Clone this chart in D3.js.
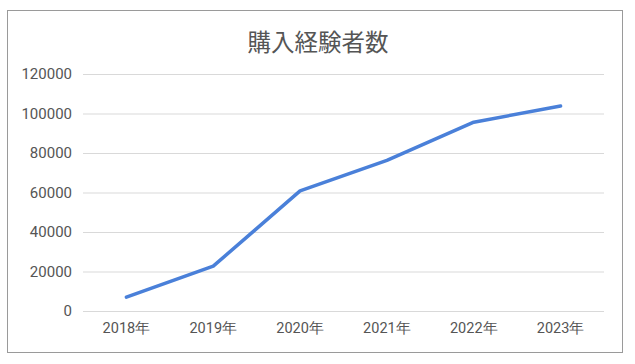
<!DOCTYPE html>
<html>
<head>
<meta charset="utf-8">
<script src="https://cdn.jsdelivr.net/npm/d3@7"></script>
<style>
  body { margin: 0; background: #fff; }
  text { font-family: Roboto, "Liberation Sans", Arial, sans-serif; }
</style>
</head>
<body>
<div id="chart"></div>
<script>
// chart data
let years = ["2018年", "2019年", "2020年", "2021年", "2022年", "2023年"];
let buyers = [7000, 22700, 60800, 76300, 95600, 103800];
let yTicks = [0, 20000, 40000, 60000, 80000, 100000, 120000];
let title = "購入経験者数";

let svgWidth = 635;
let svgHeight = 364;

let margin = { top: 74, right: 31, bottom: 53, left: 83 };
let chartWidth = 604 - margin.left;
let chartHeight = 311 - margin.top;

let svg = d3.select("#chart")
  .append("svg")
  .attr("width", svgWidth)
  .attr("height", svgHeight);

// outer frame
svg.append("rect")
  .attr("x", 7.5)
  .attr("y", 10.5)
  .attr("width", 615)
  .attr("height", 342)
  .attr("fill", "#fff")
  .attr("stroke", "#9a9a9a")
  .attr("stroke-width", 1);

svg.append("text")
  .attr("x", 318)
  .attr("y", 41)
  .attr("text-anchor", "middle")
  .attr("dominant-baseline", "central")
  .attr("font-size", 23.5)
  .attr("fill", "#555")
  .style("font-family", "'Noto Sans CJK JP', sans-serif")
  .text(title);

let chartGroup = svg.append("g")
  .attr("transform", `translate(${margin.left}, ${margin.top})`);

let xScale = d3.scaleBand()
  .domain(years)
  .range([0, chartWidth]);

let yScale = d3.scaleLinear()
  .domain([0, 120000])
  .range([chartHeight, 0]);

// gridlines + y labels
let leftAxis = d3.axisLeft(yScale)
  .tickValues(yTicks)
  .tickSize(-chartWidth)
  .tickPadding(11)
  .tickFormat(d3.format("d"));

let yAxis = chartGroup.append("g").call(leftAxis);
yAxis.select(".domain").remove();
yAxis.selectAll("line").attr("stroke", "#d9d9d9").attr("stroke-width", 1);
yAxis.selectAll("text").attr("font-size", 15).attr("fill", "#555");

let bottomAxis = d3.axisBottom(xScale).tickSize(0).tickPadding(12);
let xAxis = chartGroup.append("g")
  .attr("transform", `translate(0, ${chartHeight})`)
  .call(bottomAxis);
xAxis.select(".domain").remove();
xAxis.selectAll("text").attr("font-size", 14.5).attr("fill", "#555");

let drawLine = d3.line()
  .x((d, i) => xScale(years[i]) + xScale.bandwidth() / 2)
  .y(d => yScale(d));

chartGroup.append("path")
  .attr("d", drawLine(buyers))
  .attr("fill", "none")
  .attr("stroke", "#4a80d9")
  .attr("stroke-width", 3.5)
  .attr("stroke-linejoin", "round")
  .attr("stroke-linecap", "round");
</script>
</body>
</html>
